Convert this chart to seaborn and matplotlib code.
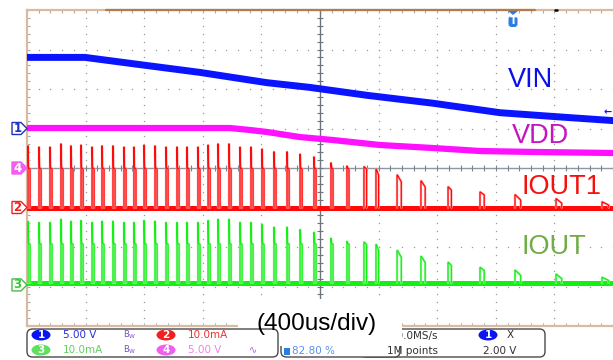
import numpy as np
import pandas as pd
import matplotlib
matplotlib.use('Agg')
import matplotlib.pyplot as plt
from matplotlib.patches import Rectangle, FancyBboxPatch, Polygon, Ellipse
import seaborn as sns

# ---- data ----
# time base 400 us/div, 10 div -> 0..4 ms
vin_t = [0.0, 0.396, 0.724, 1.181, 1.638, 1.932, 2.321, 2.771, 3.229, 3.686, 4.0]
vin_v = [9.0, 9.0, 8.2, 7.1, 5.8, 5.2, 4.2, 3.2, 2.0, 1.4, 1.0]

vdd_t = [0.0, 1.386, 1.522, 1.638, 1.863, 2.089, 2.410, 2.771, 3.092, 3.454, 4.0]
vdd_v = [5.06, 5.06, 4.81, 4.56, 3.92, 3.54, 2.91, 2.53, 2.15, 2.03, 1.90]

# load current pulses (same on IOUT1 and IOUT)
pulse_t = [0.007, 0.082, 0.157, 0.232, 0.300, 0.369, 0.444, 0.512, 0.587, 0.662,
           0.730, 0.799, 0.874, 0.949, 1.024, 1.092, 1.167, 1.236, 1.304, 1.379,
           1.454, 1.529, 1.604, 1.686, 1.775, 1.864, 1.959, 2.075, 2.184, 2.300,
           2.382, 2.526, 2.689, 2.874, 3.092, 3.331, 3.611, 3.925]
pulse_peak = [15.6, 15.3, 15.3, 16.1, 15.6, 15.8, 15.3, 15.6, 15.6, 15.3,
              15.3, 15.8, 15.6, 15.3, 15.3, 15.3, 15.3, 15.8, 16.1, 16.1,
              15.3, 15.3, 14.8, 14.1, 14.1, 13.5, 12.8, 11.3, 10.5, 10.3,
              9.7, 8.2, 6.7, 5.2, 3.9, 3.2, 2.2, 1.4]
pulse_hold = [10.1] * 29 + [10.3, 9.7, 8.2, 6.7, 5.2, 3.9, 3.2, 2.2, 1.4]
pulse_tail = [9.8] * 29 + [9.7, 8.2, 6.5, 5.2, 4.4, 3.2, 1.9, 1.1, 0.6]
pulse_w_us = [14] * 29 + [18, 18, 29, 29, 23, 29, 39, 39, 46]

# channel settings: volts(or mA)/div and ground marker position in div
ch_scale = {'1': 5.0, '2': 10.0, '3': 10.0, '4': 5.0}
ch_offset = {'1': 1.0, '2': -1.0, '3': -2.96, '4': 0.0}
iout_base = 0.5

W, H = 613, 360
fig = plt.figure(figsize=(W / 100, H / 100), dpi=100)
sns.set_style('white')
plt.rcParams['font.family'] = ['DejaVu Sans']


def fx(x):
    return x / W


def fy(y):
    return 1 - y / H


def py(div):
    return 10 + (4 - div) / 8 * 316


ax = fig.add_axes([fx(27), fy(326), 586 / W, 316 / H])
ax.set_xlim(0, 4.0)
ax.set_ylim(-4, 4)
ax.set_facecolor('white')

# graticule dots
dot_kw = dict(linestyle='none', marker='s', ms=0.9, mew=0, color='#9a9a9a', zorder=1)
ys = np.arange(-4, 4.01, 0.2)
xs = np.arange(0, 4.001, 0.08)
for k in range(1, 10):
    if k == 5:
        continue
    ax.plot(np.full_like(ys, k * 0.4), ys, **dot_kw)
for k in range(-3, 4):
    if k == 0:
        continue
    ax.plot(xs, np.full_like(xs, k), **dot_kw)

# centre axes with small ticks
ax.axhline(0, color='#8e98a4', lw=1.0, zorder=1.5)
ax.axvline(2.0, color='#6e747c', lw=1.0, zorder=1.5)
ax.plot(xs, np.zeros_like(xs), linestyle='none', marker='|', ms=4, mew=0.8,
        color='#7a8490', zorder=1.5)
ax.plot(np.full_like(ys, 2.0), ys, linestyle='none', marker='_', ms=4, mew=0.8,
        color='#6e747c', zorder=1.5)

# ---- traces ----
vin_y = ch_offset['1'] + np.array(vin_v) / ch_scale['1']
vdd_y = ch_offset['4'] + np.array(vdd_v) / ch_scale['4']
sns.lineplot(x=vin_t, y=vin_y, ax=ax, color='#0a14ff', lw=5.0, zorder=3)
sns.lineplot(x=vdd_t, y=vdd_y, ax=ax, color='#ff10ff', lw=4.5, zorder=3)

rows = []
for i, (t, pk, hd, tl, w) in enumerate(zip(pulse_t, pulse_peak, pulse_hold,
                                           pulse_tail, pulse_w_us)):
    w = w / 1000
    for xx, yy in [(t, 0), (t, pk), (t + 0.003, hd), (t + w, tl), (t + w, 0)]:
        rows.append({'pulse': i, 't': xx, 'i': yy})
pulses = pd.DataFrame(rows)

for ch, col, light, base in [('2', '#ff0a0a', '#ffb0b0', 0.0),
                             ('3', '#14f014', '#b0f5b0', iout_base)]:
    d = pulses.copy()
    d['y'] = ch_offset[ch] + (d['i'] + base) / ch_scale[ch]
    sns.lineplot(x=[0, 4.0], y=[ch_offset[ch] + base / ch_scale[ch]] * 2, ax=ax,
                 color=col, lw=3.6, zorder=3)
    sns.lineplot(data=d, x='t', y='y', units='pulse', estimator=None, sort=False,
                 ax=ax, color=light, lw=1.7, zorder=3.1, legend=False)
    sns.lineplot(data=d, x='t', y='y', units='pulse', estimator=None, sort=False,
                 ax=ax, color=col, lw=0.9, zorder=3.2, legend=False)

ax.set_xlabel('')
ax.set_ylabel('')

# border and border ticks
for s in ['left', 'bottom', 'top']:
    ax.spines[s].set_color('#d9bba4')
    ax.spines[s].set_linewidth(1.6)
ax.spines['right'].set_visible(False)
ax.set_xticks(xs)
ax.set_yticks(ys)
ax.tick_params(direction='in', length=2.5, width=0.8, color='#a8a8a8',
               top=True, bottom=True, left=True, right=False,
               labelbottom=False, labelleft=False)
ax.plot([0.539, 3.468], [4, 4], color='#b47c4c', lw=1.6, clip_on=False, zorder=4)
ax.plot([3.604, 3.618], [4, 4], color='black', lw=1.8, clip_on=False, zorder=4)

# channel ground markers on the left
marker_style = {'1': ('white', '#2030c0', '#2030c0'),
                '4': ('#f060f0', '#f060f0', 'white'),
                '2': ('white', '#f02020', '#f02020'),
                '3': ('white', '#40c040', '#40c040')}
for ch, (fc, ec, tc) in marker_style.items():
    yc = py(ch_offset[ch])
    pts = [(12, yc - 6), (21, yc - 6), (27, yc), (21, yc + 6), (12, yc + 6)]
    fig.add_artist(Polygon([(fx(a), fy(b)) for a, b in pts], closed=True,
                           transform=fig.transFigure, fc=fc, ec=ec, lw=1.0))
    fig.text(fx(17.5), fy(yc), ch, color=tc, fontsize=8.5, ha='center',
             va='center', fontweight='bold')

# trigger marker at the top
fig.add_artist(Polygon([(fx(508), fy(11)), (fx(518), fy(11)), (fx(513), fy(15))],
                       transform=fig.transFigure, fc='#2a7de1', ec='none'))
fig.add_artist(FancyBboxPatch((fx(508.5), fy(27)), 9 / W, 11 / H,
                              boxstyle='round,pad=0,rounding_size=0.005',
                              mutation_aspect=W / H, transform=fig.transFigure,
                              fc='#2a7de1', ec='none'))
fig.text(fx(513), fy(21.5), 'T', color='white', fontsize=7.5, ha='center',
         va='center', fontweight='bold')
fig.text(fx(612), fy(112), '\u2190', color='#0a14ff', fontsize=7, ha='right',
         va='center', fontweight='bold')

# trace names
lab_font = ['Liberation Sans', 'DejaVu Sans']
fig.text(fx(508), fy(87), 'VIN', color='#0a10e8', fontsize=19.5, family=lab_font)
fig.text(fx(512), fy(143), 'VDD', color='#c414c4', fontsize=19.5, family=lab_font)
fig.text(fx(522), fy(194), 'IOUT1', color='#f51010', fontsize=19.5, family=lab_font)
fig.text(fx(522), fy(254), 'IOUT', color='#70ad47', fontsize=19.5, family=lab_font)

# ---- bottom status bar ----
def rbox(x0, y0, x1, y1, z):
    fig.add_artist(FancyBboxPatch((fx(x0), fy(y1)), (x1 - x0) / W, (y1 - y0) / H,
                                  boxstyle='round,pad=0,rounding_size=0.009',
                                  mutation_aspect=W / H, transform=fig.transFigure,
                                  fc='white', ec='#4a4a4a', lw=1.0, zorder=z))


def badge(xc, yc, s, col, z):
    fig.add_artist(Ellipse((fx(xc), fy(yc)), 19 / W, 11 / H,
                           transform=fig.transFigure, fc=col, ec='none', zorder=z))
    fig.text(fx(xc), fy(yc), s, color='white', fontsize=7.5, ha='center',
             va='center', fontweight='bold', zorder=z + 0.1)


small = dict(fontsize=7.5, va='center')
rbox(360, 329, 545, 357, 4)
rbox(281, 329, 400, 357, 4)
fig.text(fx(438), fy(336), '50.0MS/s', color='#303030', ha='right', zorder=4.2, **small)
fig.text(fx(438), fy(351), '1M points', color='#303030', ha='right', zorder=4.2, **small)
badge(488, 335, '1', '#0a14f0', 4.2)
fig.text(fx(507), fy(335), 'X', color='#303030', zorder=4.2, **small)
fig.text(fx(483), fy(351), '2.00 V', color='#303030', zorder=4.2, **small)
fig.add_artist(Rectangle((fx(284), fy(355)), 6 / W, 7 / H, transform=fig.transFigure,
                         fc='#2a7de1', ec='none', zorder=4.2))
fig.text(fx(292), fy(351), '82.80 %', color='#5a90f0', zorder=4.2, **small)

# white patch behind the time/div note
fig.add_artist(Rectangle((fx(238), fy(346)), (402 - 238) / W, (346 - 299) / H,
                         transform=fig.transFigure, fc='white', ec='none', zorder=5))

rbox(27, 329, 278, 357, 6)
badge(41, 335, '1', '#0a14f0', 6.2)
fig.text(fx(63), fy(335), '5.00 V', color='#2a2ae0', zorder=6.2, **small)
fig.text(fx(123), fy(335), r'$\mathregular{B_W}$', color='#7a50c8', fontsize=6,
         va='center', zorder=6.2)
badge(166, 335, '2', '#f02020', 6.2)
fig.text(fx(188), fy(335), '10.0mA', color='#f03030', zorder=6.2, **small)
badge(41, 350, '3', '#60e060', 6.2)
fig.text(fx(63), fy(350), '10.0mA', color='#60d060', zorder=6.2, **small)
fig.text(fx(123), fy(350), r'$\mathregular{B_W}$', color='#7a50c8', fontsize=6,
         va='center', zorder=6.2)
badge(166, 350, '4', '#f060f0', 6.2)
fig.text(fx(188), fy(350), '5.00 V', color='#f080f0', zorder=6.2, **small)
fig.text(fx(253), fy(350), '\u223f', color='#a060e0', fontsize=7, ha='center',
         va='center', zorder=6.2)

fig.text(fx(257), fy(330), '(400us/div)', color='black', fontsize=17.5,
         family=lab_font, zorder=7)

fig.savefig('out.png', dpi=100)
